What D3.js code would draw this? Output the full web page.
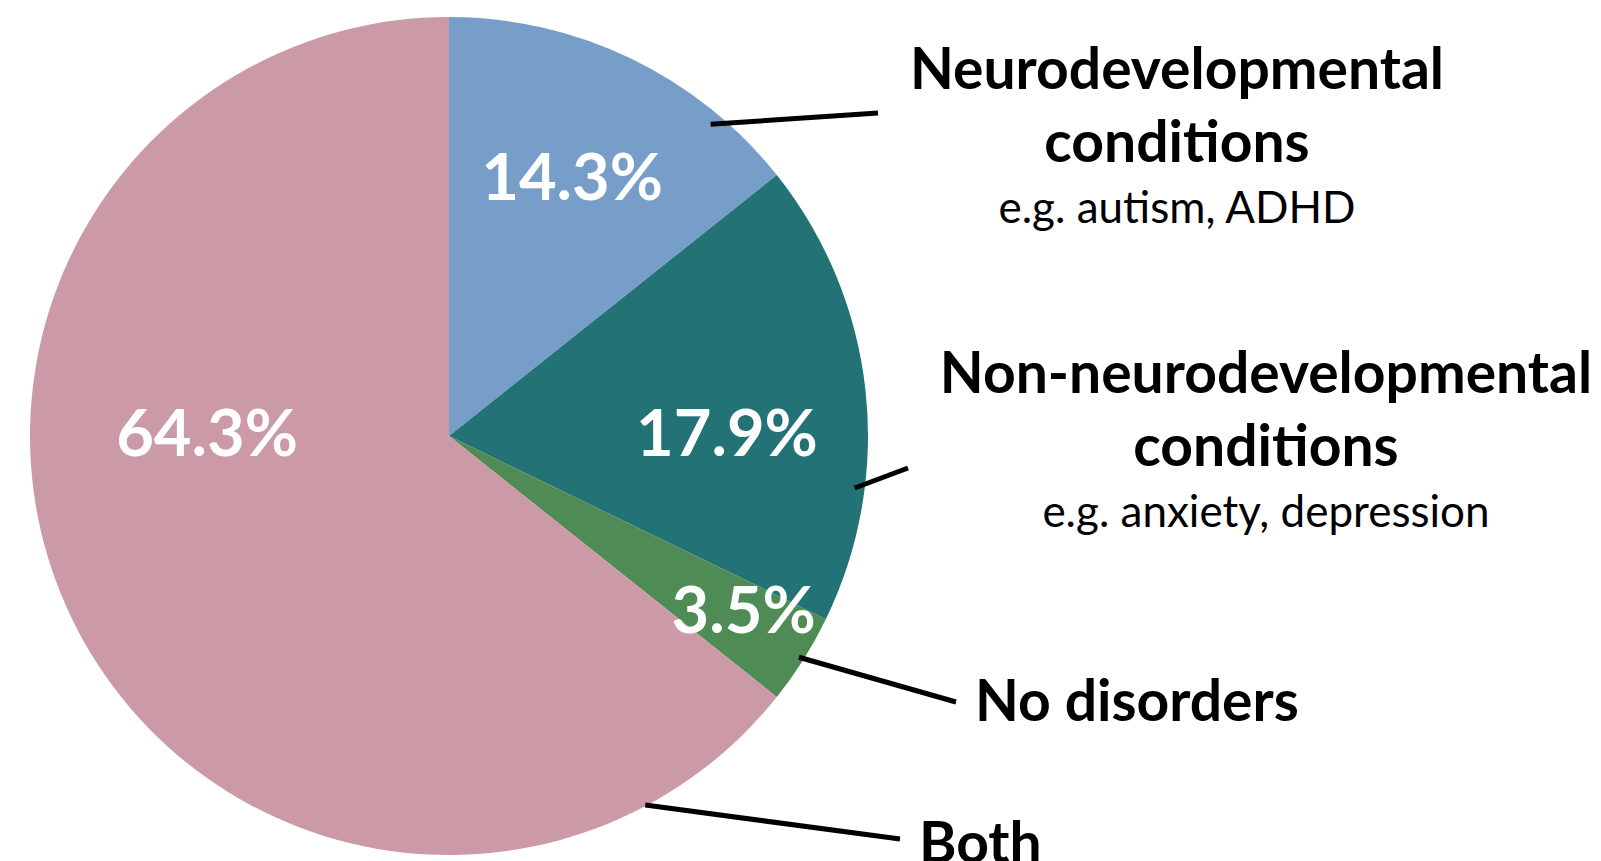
<!DOCTYPE html>
<html lang="en">
<head>
  <meta charset="UTF-8" />
  <title>Pie chart - conditions</title>
  <script src="https://d3js.org/d3.v7.min.js"></script>
  <style>
    body { margin: 0; background: #fff; }
    svg { font-family: Lato, "Open Sans", sans-serif; }
    .pct { fill: #fff; font-weight: bold; font-size: 65px; }
    .name { fill: #000; font-weight: bold; font-size: 57px; }
    .sub { fill: #000; font-size: 44px; }
    .leader { stroke: #000; stroke-width: 5px; }
  </style>
</head>
<body>
  <svg width="1601" height="861"></svg>

  <script>
    // data, clockwise from 12 o'clock
    const categories = ["Neurodevelopmental", "Non-neurodevelopmental", "No disorders", "Both"];
    const values = [14.3, 17.9, 3.5, 64.3];
    const pctLabels = ["14.3%", "17.9%", "3.5%", "64.3%"];
    const colors = ["#779ec8", "#237276", "#4e8b55", "#cc99a6"];

    // label text lines per category (bold title lines, then example line)
    const titleLines = [["Neurodevelopmental", "conditions"], ["Non-neurodevelopmental", "conditions"], ["No disorders"], ["Both"]];
    const exampleLines = ["e.g. autism, ADHD", "e.g. anxiety, depression", null, null];

    const cx = 449, cy = 436, r = 419;

    // where each percent label sits: [angle in degrees, radius]
    const pctPos = [[25.4, 287], [89.4, 278], [120.5, 342], [270.7, 242]];
    // leader line: start [angle, radius] on the pie, end point near text
    const leaderStart = [[40, 407], [97.3, 409], [122.3, 414], [152, 418]];
    const leaderEnd = [[878, 113], [908, 468], [956, 702], [900, 839]];
    // text block: x, anchor, first baseline
    const textPos = [
      { x: 1177, anchor: "middle", y: 89 },
      { x: 1266, anchor: "middle", y: 393 },
      { x: 975, anchor: "start", y: 721 },
      { x: 919, anchor: "start", y: 863 }
    ];

    const svg = d3.select("svg");
    const g = svg.append("g").attr("transform", `translate(${cx},${cy})`);

    const pie = d3.pie().sort(null).value(d => d);
    const arc = d3.arc().innerRadius(0).outerRadius(r);
    const arcs = pie(values);

    g.selectAll("path.slice")
      .data(arcs)
      .join("path")
      .attr("class", "slice")
      .attr("fill", (d, i) => colors[i])
      .attr("d", arc);

    const rad = a => a * Math.PI / 180;

    g.selectAll("text.pct")
      .data(arcs)
      .join("text")
      .attr("class", "pct")
      .attr("text-anchor", "middle")
      .attr("x", (d, i) => d3.pointRadial(rad(pctPos[i][0]), pctPos[i][1])[0])
      .attr("y", (d, i) => d3.pointRadial(rad(pctPos[i][0]), pctPos[i][1])[1] + 23)
      .text((d, i) => pctLabels[i]);

    // leader lines
    svg.selectAll("line.leader")
      .data(categories)
      .join("line")
      .attr("class", "leader")
      .attr("x1", (d, i) => cx + d3.pointRadial(rad(leaderStart[i][0]), leaderStart[i][1])[0])
      .attr("y1", (d, i) => cy + d3.pointRadial(rad(leaderStart[i][0]), leaderStart[i][1])[1])
      .attr("x2", (d, i) => leaderEnd[i][0])
      .attr("y2", (d, i) => leaderEnd[i][1]);

    // category labels
    categories.forEach((c, i) => {
      const p = textPos[i];
      const t = svg.append("g");
      titleLines[i].forEach((line, j) => {
        t.append("text")
          .attr("class", "name")
          .attr("text-anchor", p.anchor)
          .attr("x", p.x)
          .attr("y", p.y + j * 73)
          .text(line);
      });
      if (exampleLines[i]) {
        t.append("text")
          .attr("class", "sub")
          .attr("text-anchor", p.anchor)
          .attr("x", p.x)
          .attr("y", p.y + 134)
          .text(exampleLines[i]);
      }
    });
  </script>
</body>
</html>
